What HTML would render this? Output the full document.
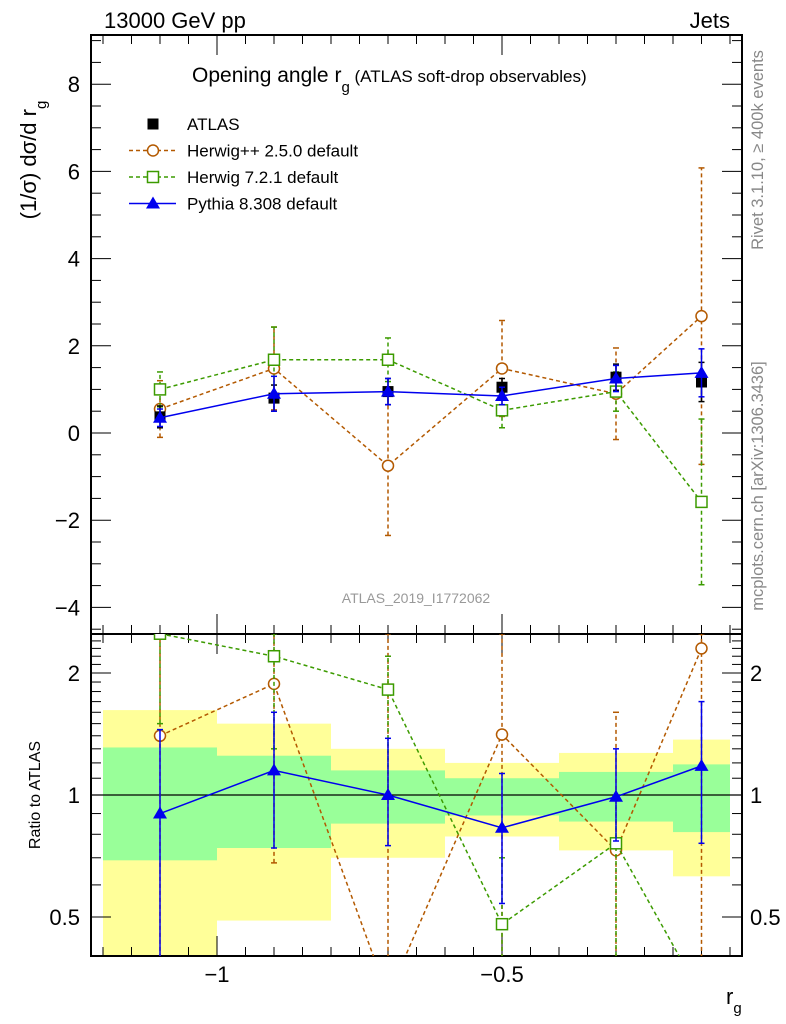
<!DOCTYPE html>
<html><head><meta charset="utf-8"><style>
body{margin:0;background:#fff}
svg{display:block;font-family:"Liberation Sans",sans-serif}
</style></head><body>
<svg id="c" width="786" height="1024" viewBox="0 0 786 1024" xmlns="http://www.w3.org/2000/svg"></svg>
<script>
const binEdges=[-1.2,-1.0,-0.8,-0.6,-0.4,-0.2,-0.1];
const xCenters=[-1.1,-0.9,-0.7,-0.5,-0.3,-0.15];
const atlas=[0.37,0.8,0.95,1.05,1.28,1.17];
const atlasErr=[0.25,0.3,0.3,0.2,0.3,0.45];
const pythia=[0.35,0.9,0.95,0.85,1.25,1.38];
const pythiaErr=[0.2,0.4,0.3,0.2,0.3,0.55];
const hpp=[0.55,1.48,-0.75,1.48,0.9,2.68];
const hppErr=[0.65,0.95,1.6,1.1,1.05,3.4];
const h7=[1.0,1.68,1.68,0.52,0.95,-1.58];
const h7Err=[0.4,0.75,0.5,0.4,0.45,1.9];
const rPythia=[0.9,1.15,1.0,0.83,0.99,1.18];
const rPythiaLo=[0.3,0.74,0.75,0.54,0.77,0.76];
const rPythiaHi=[1.45,1.6,1.38,1.13,1.3,1.7];
const rHpp=[1.4,1.88,-0.8,1.41,0.73,2.3];
const rHppLo=[0.3,0.68,0.3,0.3,0.3,0.3];
const rHppHi=[2.5,2.5,2.5,2.5,1.6,2.5];
const rH7=[2.5,2.2,1.82,0.48,0.76,-1.3];
const rH7Lo=[1.5,1.3,1.0,0.3,0.37,0.3];
const rH7Hi=[2.5,2.5,2.2,0.7,1.0,0.3];
const yelLo=[0.3,0.49,0.7,0.79,0.73,0.63];
const yelHi=[1.62,1.5,1.3,1.2,1.27,1.37];
const grnLo=[0.69,0.74,0.85,0.89,0.86,0.81];
const grnHi=[1.31,1.25,1.15,1.1,1.14,1.19];
const mainTicks=[-4,-2,0,2,4,6,8];
const ratioTicks=[0.5,1,2];
const xTicks=[-1,-0.5];

const L=91,R=742,T=35,MB=634,RB=956;
const X=v=>217+(v+1)*570;
const Y=v=>433-v*43.6;
const RY=r=>795-Math.log2(r)*122;
const RYc=r=>r<=0?RB+40:RY(r);
const svg=document.getElementById('c');
const NS='http://www.w3.org/2000/svg';
function mk(tag,a,p){const e=document.createElementNS(NS,tag);for(const k in a)e.setAttribute(k,a[k]);(p||svg).appendChild(e);return e;}
function txt(s,a,p){const e=mk('text',a,p);e.textContent=s;return e;}

const defs=mk('defs',{});
const c1=mk('clipPath',{id:'cm'},defs);mk('rect',{x:L,y:T,width:R-L,height:MB-T},c1);
const c2=mk('clipPath',{id:'cr'},defs);mk('rect',{x:L,y:MB,width:R-L,height:RB-MB},c2);

const gb=mk('g',{'clip-path':'url(#cr)'});

for(let i=0;i<6;i++){
 const x0=X(binEdges[i]),x1=X(binEdges[i+1]);
 const ry=mk('rect',{x:x0,y:RY(yelHi[i]),width:x1-x0,height:RY(yelLo[i])-RY(yelHi[i]),fill:'#ffff99'},gb);
 
 const rg=mk('rect',{x:x0,y:RY(grnHi[i]),width:x1-x0,height:RY(grnLo[i])-RY(grnHi[i]),fill:'#99ff99'},gb);
 
}
mk('line',{x1:L,x2:R,y1:RY(1),y2:RY(1),stroke:'#000','stroke-width':1.3});

mk('rect',{x:L,y:T,width:R-L,height:MB-T,fill:'none',stroke:'#000','stroke-width':2});
mk('rect',{x:L,y:MB,width:R-L,height:RB-MB,fill:'none',stroke:'#000','stroke-width':2});

for(let v=-1.2;v<=-0.079;v+=0.05){
 const x=X(v);const major=Math.abs(v*2-Math.round(v*2))<1e-6;const h=major?20:9;
 [[T,1],[MB,1],[MB,-1],[RB,-1]].forEach(([y,s])=>mk('line',{x1:x,x2:x,y1:y,y2:y+s*h,stroke:'#000','stroke-width':1}));
}
xTicks.forEach(v=>{const t=txt('\u2212'+Math.abs(v),{x:X(v),y:982,'font-size':22,'text-anchor':'middle'});});
for(let v=-4.5;v<=9;v+=0.5){const y=Y(v);if(y<T||y>MB)continue;const major=Math.abs(v%2)<1e-6;const h=major?20:10;
 mk('line',{x1:L,x2:L+h,y1:y,y2:y,stroke:'#000'});mk('line',{x1:R,x2:R-h,y1:y,y2:y,stroke:'#000'});}
mainTicks.forEach(v=>{const t=txt(v<0?'\u2212'+(-v):''+v,{x:80,y:Y(v)+8,'font-size':22,'text-anchor':'end'});});
const rmin=[0.4,0.5,0.6,0.7,0.8,0.9,1,1.1,1.2,1.3,1.4,1.5,1.6,1.7,1.8,1.9,2,2.1,2.2,2.3,2.4];
rmin.forEach(r=>{const y=RY(r);if(y<MB||y>RB)return;const h=ratioTicks.includes(r)?20:10;
 mk('line',{x1:L,x2:L+h,y1:y,y2:y,stroke:'#000'});mk('line',{x1:R,x2:R-h,y1:y,y2:y,stroke:'#000'});});
ratioTicks.forEach(r=>{const a=txt(''+r,{x:80,y:RY(r)+8,'font-size':22,'text-anchor':'end'});
 const b=txt(''+r,{x:750,y:RY(r)+8,'font-size':22});});

function series(g,xs,ys,lo,hi,yf,col,dash,marker,name){
 const gg=mk('g',{},g);
 for(let i=0;i<xs.length;i++){const x=X(xs[i]);const y1=yf(lo[i]),y2=yf(hi[i]);
  mk('line',{x1:x,x2:x,y1:y1,y2:y2,stroke:col,'stroke-width':1.5,'stroke-dasharray':dash||''},gg);
  mk('line',{x1:x-3,x2:x+3,y1:y1,y2:y1,stroke:col,'stroke-width':1.5},gg);
  mk('line',{x1:x-3,x2:x+3,y1:y2,y2:y2,stroke:col,'stroke-width':1.5},gg);}
 if(marker!=='sq-fill')mk('polyline',{points:xs.map((v,i)=>X(v)+','+yf(ys[i])).join(' '),fill:'none',stroke:col,'stroke-width':1.5,'stroke-dasharray':dash||''},gg);
 xs.forEach((v,i)=>{const x=X(v),y=yf(ys[i]);let m;
  if(marker==='circ')m=mk('circle',{cx:x,cy:y,r:5.5,fill:'#fff',stroke:col,'stroke-width':1.5},gg);
  else if(marker==='sq')m=mk('rect',{x:x-5.5,y:y-5.5,width:11,height:11,fill:'#fff',stroke:col,'stroke-width':1.5},gg);
  else if(marker==='sq-fill')m=mk('rect',{x:x-5.5,y:y-5.5,width:11,height:11,fill:col},gg);
  else m=mk('polygon',{points:`${x},${y-7} ${x-7},${y+5} ${x+7},${y+5}`,fill:col},gg);
  });
}
const gm=mk('g',{'clip-path':'url(#cm)'});
series(gm,xCenters,hpp,hpp.map((v,i)=>v-hppErr[i]),hpp.map((v,i)=>v+hppErr[i]),Y,'#b35900','4,3','circ','herwigpp-main');
series(gm,xCenters,h7,h7.map((v,i)=>v-h7Err[i]),h7.map((v,i)=>v+h7Err[i]),Y,'#3c9b00','4,3','sq','herwig7-main');
series(gm,xCenters,atlas,atlas.map((v,i)=>v-atlasErr[i]),atlas.map((v,i)=>v+atlasErr[i]),Y,'#000','','sq-fill','atlas-main');
series(gm,xCenters,pythia,pythia.map((v,i)=>v-pythiaErr[i]),pythia.map((v,i)=>v+pythiaErr[i]),Y,'#0000ee','','tri','pythia-main');
const gr=mk('g',{'clip-path':'url(#cr)'});
series(gr,xCenters,rHpp,rHppLo,rHppHi,RYc,'#b35900','4,3','circ','herwigpp-ratio');
series(gr,xCenters,rH7,rH7Lo,rH7Hi,RYc,'#3c9b00','4,3','sq','herwig7-ratio');
series(gr,xCenters,rPythia,rPythiaLo,rPythiaHi,RYc,'#0000ee','','tri','pythia-ratio');

const lg=mk('g',{});
const ent=[['ATLAS','#000','','sq-fill'],['Herwig++ 2.5.0 default','#b35900','4,3','circ'],['Herwig 7.2.1 default','#3c9b00','4,3','sq'],['Pythia 8.308 default','#0000ee','','tri']];
ent.forEach((e,i)=>{const y=124+i*26.5;const g=mk('g',{},lg);
 if(e[3]!=='sq-fill')mk('line',{x1:129,x2:176,y1:y,y2:y,stroke:e[1],'stroke-width':1.5,'stroke-dasharray':e[2]},g);
 const x=153;
 if(e[3]==='circ')mk('circle',{cx:x,cy:y,r:5.5,fill:'#fff',stroke:e[1],'stroke-width':1.5},g);
 else if(e[3]==='sq')mk('rect',{x:x-5.5,y:y-5.5,width:11,height:11,fill:'#fff',stroke:e[1],'stroke-width':1.5},g);
 else if(e[3]==='sq-fill')mk('rect',{x:x-5.5,y:y-5.5,width:11,height:11,fill:e[1]},g);
 else mk('polygon',{points:`${x},${y-7} ${x-7},${y+5} ${x+7},${y+5}`,fill:e[1]},g);
 txt(e[0],{x:187,y:y+6,'font-size':17},g);});

function T2(s,a,name){const t=txt(s,a);return t;}
T2('13000 GeV pp',{x:104,y:28,'font-size':22},'header-energy');
T2('Jets',{x:730,y:28,'font-size':22,'text-anchor':'end'},'header-process');
const tt=T2('',{x:192,y:82,'font-size':21},'plot-title');
tt.innerHTML='Opening angle r<tspan dy="10" font-size="15">g</tspan><tspan dy="-10" font-size="17"> (ATLAS soft-drop observables)</tspan>';
T2('ATLAS_2019_I1772062',{x:416,y:603,'font-size':14,fill:'#999','text-anchor':'middle'},'analysis-id');
const yt=T2('',{x:0,y:0,'font-size':22,transform:'translate(36,160) rotate(-90)','text-anchor':'middle'},'y-axis-title');
yt.innerHTML='(1/σ) dσ/d r<tspan dy="10" font-size="15">g</tspan>';
T2('Ratio to ATLAS',{x:0,y:0,'font-size':16,transform:'translate(40,795) rotate(-90)','text-anchor':'middle'},'ratio-axis-title');
const xt=T2('',{x:726,y:1004,'font-size':22},'x-axis-title');xt.innerHTML='r<tspan dy="9" font-size="15">g</tspan>';
T2('Rivet 3.1.10, ≥ 400k events',{x:0,y:0,'font-size':16.5,fill:'#888',transform:'translate(763,150) rotate(-90)','text-anchor':'middle'},'rivet-label');
T2('mcplots.cern.ch [arXiv:1306.3436]',{x:0,y:0,'font-size':16.5,fill:'#888',transform:'translate(763,486) rotate(-90)','text-anchor':'middle'},'mcplots-label');
</script>
</body></html>
